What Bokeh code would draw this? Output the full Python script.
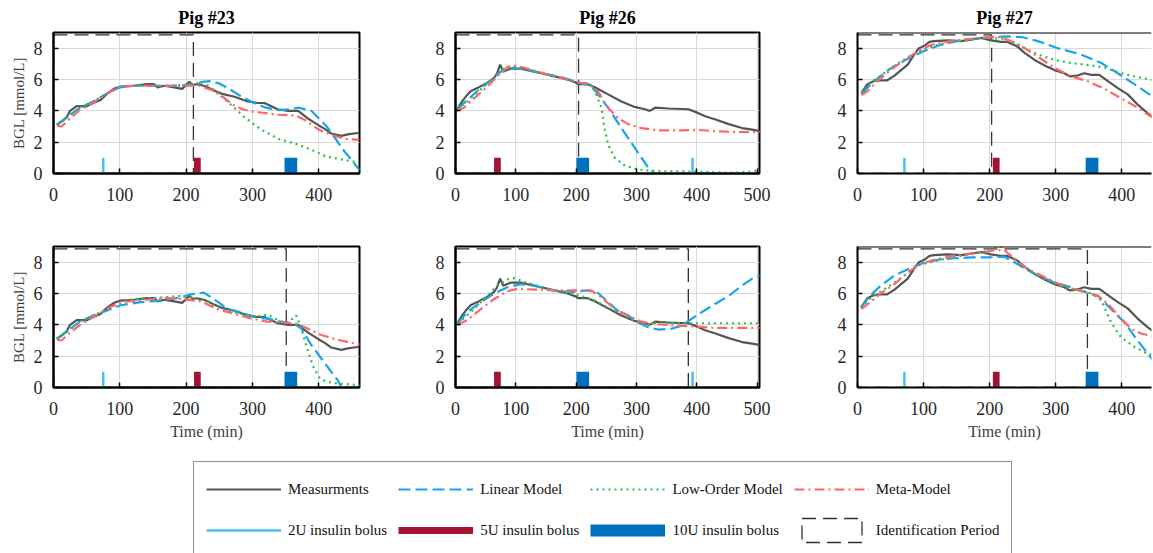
from bokeh.plotting import figure
from bokeh.layouts import column, row
from bokeh.models import Legend, LegendItem, Span, FixedTicker, Range1d
from bokeh.embed import file_html
from bokeh.resources import INLINE

# ---------------- data ----------------
pigs = ["Pig #23", "Pig #26", "Pig #27"]
x_ticks_450 = [0, 100, 200, 300, 400]
x_ticks_500 = [0, 100, 200, 300, 400, 500]
y_ticks = [0, 2, 4, 6, 8]

# Pig 23 measurements
p23_meas_t = [5, 15, 20, 25, 35, 50, 60, 71, 81, 91, 101, 121, 141, 152, 157, 167, 182, 194, 205, 210,
              215, 227, 232, 242, 253, 273, 293, 308, 318, 323, 338, 354, 369, 384, 399, 409, 419, 434, 444, 461]
p23_meas_y = [3.1, 3.4, 3.6, 4.0, 4.3, 4.3, 4.5, 4.7, 5.1, 5.4, 5.55, 5.6, 5.7, 5.7, 5.5, 5.6, 5.5, 5.4, 5.85, 5.65,
              5.7, 5.6, 5.5, 5.3, 5.1, 4.9, 4.6, 4.5, 4.5, 4.4, 4.1, 4.0, 4.0, 3.5, 3.1, 2.85, 2.55, 2.4, 2.5, 2.6]
# Pig 23, identification period 1 (top)
p23_lin_a_t = [5, 20, 40, 60, 80, 100, 120, 150, 180, 210, 225, 235, 250, 265, 280, 300, 320, 340, 355, 370, 389, 412, 419, 439, 462]
p23_lin_a_y = [3.1, 3.6, 4.2, 4.6, 5.1, 5.5, 5.6, 5.6, 5.6, 5.65, 5.85, 5.9, 5.75, 5.4, 5.0, 4.55, 4.2, 4.05, 4.1, 4.2, 4.0, 3.0, 2.6, 1.4, 0.2]
p23_low_a_t = [5, 20, 40, 60, 80, 100, 120, 150, 180, 210, 225, 240, 262, 288, 313, 340, 365, 390, 410, 440, 461]
p23_low_a_y = [3.1, 3.55, 4.2, 4.6, 5.1, 5.5, 5.6, 5.6, 5.6, 5.7, 5.85, 5.4, 4.6, 3.6, 2.8, 2.2, 1.9, 1.5, 1.1, 0.85, 0.7]
p23_meta_a_t = [5, 12, 25, 38, 55, 70, 85, 100, 120, 160, 200, 220, 240, 255, 270, 285, 300, 320, 340, 365, 380, 400, 420, 440, 461]
p23_meta_a_y = [3.05, 3.0, 3.5, 4.0, 4.4, 4.8, 5.2, 5.5, 5.6, 5.6, 5.6, 5.6, 5.3, 4.9, 4.4, 4.1, 3.95, 3.85, 3.75, 3.7, 3.4, 2.8, 2.45, 2.2, 2.15]
# Pig 23, identification period 2 (bottom)
p23_lin_b_t = [5, 20, 40, 60, 80, 101, 131, 162, 192, 207, 227, 242, 263, 283, 303, 323, 343, 364, 374, 389, 404, 419, 429, 434, 440]
p23_lin_b_y = [3.1, 3.6, 4.2, 4.6, 4.9, 5.25, 5.45, 5.55, 5.75, 5.95, 6.05, 5.65, 5.0, 4.8, 4.5, 4.4, 4.2, 4.05, 3.75, 2.7, 1.85, 1.0, 0.45, 0.0, -0.3]
p23_low_b_t = [5, 20, 40, 60, 80, 100, 121, 150, 192, 210, 232, 242, 263, 283, 303, 323, 343, 354, 366, 374, 381, 391, 402, 414, 429, 462]
p23_low_b_y = [3.1, 3.55, 4.2, 4.6, 5.0, 5.4, 5.65, 5.7, 5.85, 5.75, 5.55, 5.2, 4.9, 4.7, 4.5, 4.65, 4.2, 4.15, 4.6, 3.75, 2.7, 1.4, 0.55, 0.35, 0.25, 0.15]
p23_meta_b_t = [5, 12, 25, 40, 60, 80, 101, 140, 172, 192, 222, 247, 273, 298, 323, 348, 369, 384, 404, 424, 444, 462]
p23_meta_b_y = [3.05, 3.0, 3.5, 4.0, 4.5, 5.0, 5.45, 5.6, 5.7, 5.65, 5.5, 5.0, 4.7, 4.4, 4.2, 4.15, 4.05, 3.75, 3.35, 3.1, 2.9, 2.75]

# Pig 26 measurements
p26_meas_t = [3, 11, 19, 25, 36, 53, 64, 69, 74, 79, 92, 108, 119, 142, 164, 186, 200, 203, 219, 231, 253, 275,
              297, 314, 322, 331, 353, 386, 400, 414, 431, 453, 475, 492, 506]
p26_meas_y = [4.1, 4.6, 5.0, 5.25, 5.45, 5.8, 6.1, 6.4, 6.95, 6.5, 6.7, 6.7, 6.6, 6.4, 6.2, 6.0, 5.8, 5.7, 5.7, 5.5, 5.05, 4.6,
              4.25, 4.1, 4.0, 4.2, 4.15, 4.1, 3.9, 3.65, 3.45, 3.15, 2.9, 2.8, 2.7]
p26_lin_a_t = [3, 20, 40, 60, 75, 95, 120, 150, 180, 205, 225, 253, 275, 297, 319, 325, 335, 505]
p26_lin_a_y = [4.1, 4.7, 5.4, 6.0, 6.5, 6.75, 6.6, 6.35, 6.1, 5.8, 5.6, 4.2, 2.9, 1.65, 0.4, 0.2, -0.3, -0.3]
p26_low_a_t = [3, 20, 40, 60, 80, 95, 120, 150, 180, 205, 225, 231, 242, 247, 253, 264, 281, 303, 336, 400, 458, 486, 506]
p26_low_a_y = [4.1, 4.6, 5.3, 6.0, 6.7, 6.85, 6.65, 6.35, 6.05, 5.8, 5.65, 5.25, 4.2, 2.9, 1.85, 1.0, 0.5, 0.25, 0.15, 0.12, 0.05, 0.1, 0.2]
p26_meta_a_t = [3, 14, 31, 53, 69, 86, 97, 114, 150, 180, 200, 220, 236, 253, 269, 286, 308, 336, 375, 403, 431, 464, 506]
p26_meta_a_y = [4.0, 4.2, 4.8, 5.55, 6.2, 6.8, 6.9, 6.75, 6.35, 6.05, 5.8, 5.75, 5.25, 4.2, 3.55, 3.15, 2.9, 2.75, 2.75, 2.78, 2.7, 2.65, 2.65]
p26_lin_b_t = [4, 19, 42, 64, 86, 108, 131, 153, 175, 197, 219, 236, 253, 269, 286, 303, 319, 336, 358, 375, 392, 408, 431, 453, 475, 492, 506]
p26_lin_b_y = [4.1, 4.8, 5.45, 6.0, 6.4, 6.6, 6.5, 6.25, 6.15, 6.1, 6.2, 6.05, 5.45, 4.9, 4.6, 4.15, 3.85, 3.7, 3.75, 3.95, 4.4, 4.8, 5.35, 5.85, 6.5, 6.95, 7.15]
p26_low_b_t = [4, 25, 53, 69, 86, 97, 114, 153, 186, 208, 231, 253, 275, 297, 319, 336, 375, 431, 506]
p26_low_b_y = [4.1, 4.8, 5.85, 6.5, 6.9, 6.98, 6.75, 6.3, 6.05, 5.85, 5.55, 5.1, 4.7, 4.25, 4.0, 4.15, 4.1, 4.1, 4.1]
p26_meta_b_t = [4, 19, 42, 64, 86, 103, 131, 164, 197, 225, 242, 264, 286, 308, 331, 364, 397, 431, 506]
p26_meta_b_y = [4.0, 4.3, 5.0, 5.65, 6.15, 6.3, 6.25, 6.2, 6.2, 6.2, 5.75, 5.0, 4.6, 4.2, 4.05, 3.95, 3.9, 3.8, 3.8]

# Pig 27 measurements
p27_meas_t = [6, 15, 25, 35, 45, 56, 66, 76, 86, 93, 101, 109, 116, 136, 157, 172, 187, 202, 217, 227, 242, 253,
              268, 283, 298, 313, 321, 333, 343, 354, 366, 379, 394, 409, 424, 439, 449]
p27_meas_y = [5.15, 5.7, 5.9, 5.95, 5.95, 6.25, 6.6, 6.95, 7.6, 8.0, 8.15, 8.4, 8.45, 8.5, 8.45, 8.55, 8.65, 8.5, 8.4, 8.4, 8.1, 7.7,
              7.25, 6.9, 6.6, 6.4, 6.2, 6.25, 6.4, 6.3, 6.3, 5.9, 5.45, 5.05, 4.4, 3.85, 3.55]
p27_lin_a_t = [6, 25, 50, 75, 100, 125, 150, 175, 200, 225, 250, 273, 303, 338, 369, 394, 419, 449]
p27_lin_a_y = [5.1, 5.9, 6.7, 7.3, 7.8, 8.2, 8.45, 8.6, 8.7, 8.75, 8.7, 8.45, 8.0, 7.6, 7.05, 6.4, 5.7, 4.85]
p27_low_a_t = [6, 20, 40, 60, 80, 100, 130, 160, 190, 220, 235, 253, 273, 298, 323, 354, 374, 399, 424, 449]
p27_low_a_y = [5.1, 5.8, 6.4, 7.0, 7.5, 7.95, 8.3, 8.5, 8.65, 8.6, 8.4, 8.0, 7.6, 7.25, 7.05, 6.9, 6.75, 6.4, 6.15, 5.95]
p27_meta_a_t = [6, 15, 30, 50, 71, 91, 111, 141, 172, 197, 217, 232, 253, 273, 298, 323, 348, 374, 399, 424, 449]
p27_meta_a_y = [5.0, 5.25, 5.9, 6.6, 7.25, 7.8, 8.2, 8.45, 8.6, 8.7, 8.7, 8.45, 8.0, 7.45, 6.75, 6.2, 5.9, 5.4, 4.8, 4.2, 3.5]
p27_lin_b_t = [5, 20, 35, 56, 76, 96, 121, 146, 172, 197, 222, 237, 253, 273, 298, 323, 348, 364, 384, 404, 424, 449]
p27_lin_b_y = [5.1, 5.9, 6.5, 7.15, 7.55, 7.9, 8.15, 8.25, 8.3, 8.3, 8.35, 8.0, 7.6, 7.15, 6.7, 6.4, 6.05, 5.85, 5.0, 4.15, 3.0, 1.65]
p27_low_b_t = [5, 20, 45, 71, 91, 111, 136, 162, 187, 202, 217, 227, 242, 263, 288, 313, 338, 354, 369, 384, 399, 419, 439, 449]
p27_low_b_y = [5.1, 5.7, 6.4, 7.15, 7.8, 8.0, 8.25, 8.45, 8.6, 8.85, 9.0, 8.65, 8.0, 7.35, 6.85, 6.4, 6.2, 6.0, 5.55, 4.15, 3.2, 2.6, 2.15, 2.05]
p27_meta_b_t = [6, 15, 35, 56, 76, 96, 121, 152, 182, 207, 222, 237, 258, 283, 313, 343, 364, 379, 399, 414, 429, 449]
p27_meta_b_y = [5.0, 5.3, 6.0, 6.6, 7.35, 7.9, 8.2, 8.45, 8.6, 8.75, 8.8, 8.2, 7.55, 7.05, 6.45, 6.1, 5.85, 5.35, 4.4, 3.75, 3.45, 3.25]

# insulin boluses (time in min): 2U, 5U, 10U
bolus_2u = [75, 393, 71]
bolus_5u = [217, 69.5, 210]
bolus_10u = [358, 211, 355]
bolus_height = 1
# identification period end (min): top row, bottom row
id_end_top = [211, 204, 203]
id_end_bottom = [351, 386, 348]
id_level = 8.85

# ---------------- styles ----------------
FONT = "Liberation Serif"
C_MEAS = "#555555"
C_LIN = "#1AA3EC"
C_LOW = "#2DBE4B"
C_META = "#FF6666"
C_2U = "#4DBEEE"
C_5U = "#A2142F"
C_10U = "#0072BD"
C_ID = "#333333"

# layout: (fig width, left border, right border, x end)
col_specs = [(398, 53, 39, 461.5), (400, 57, 39, 504), (355, 59, 2, 445)]
x_tick_sets = [x_ticks_450, x_ticks_500, x_ticks_450]

meas = [(p23_meas_t, p23_meas_y), (p26_meas_t, p26_meas_y), (p27_meas_t, p27_meas_y)]
models_top = [
    [(p23_lin_a_t, p23_lin_a_y), (p23_low_a_t, p23_low_a_y), (p23_meta_a_t, p23_meta_a_y)],
    [(p26_lin_a_t, p26_lin_a_y), (p26_low_a_t, p26_low_a_y), (p26_meta_a_t, p26_meta_a_y)],
    [(p27_lin_a_t, p27_lin_a_y), (p27_low_a_t, p27_low_a_y), (p27_meta_a_t, p27_meta_a_y)],
]
models_bottom = [
    [(p23_lin_b_t, p23_lin_b_y), (p23_low_b_t, p23_low_b_y), (p23_meta_b_t, p23_meta_b_y)],
    [(p26_lin_b_t, p26_lin_b_y), (p26_low_b_t, p26_low_b_y), (p26_meta_b_t, p26_meta_b_y)],
    [(p27_lin_b_t, p27_lin_b_y), (p27_low_b_t, p27_low_b_y), (p27_meta_b_t, p27_meta_b_y)],
]

LIN_STYLE = dict(line_color=C_LIN, line_width=2.2, line_dash="12 5")
LOW_STYLE = dict(line_color=C_LOW, line_width=2.2, line_dash="2 4")
META_STYLE = dict(line_color=C_META, line_width=2.2, line_dash="10 4 2 4")
MEAS_STYLE = dict(line_color=C_MEAS, line_width=2.2)
ID_STYLE = dict(fill_color=None, line_color=C_ID, line_width=1.3, line_dash="14 7")


def make_panel(i, top):
    w, lb, rb, xend = col_specs[i]
    if top:
        h, tb, bb = 208, 31, 35
    else:
        h, tb, bb = 246, 38, 67
    p = figure(width=w, height=h, x_range=Range1d(0, xend), y_range=Range1d(0, 9),
               output_backend="svg", toolbar_location=None,
               title=pigs[i] if top else None,
               min_border_left=lb, min_border_right=rb, min_border_top=tb, min_border_bottom=bb,
               background_fill_color="white", border_fill_color="white")
    if top:
        p.title.align = "center"
        p.title.text_font = FONT
        p.title.text_font_size = "18px"
        p.title.text_font_style = "bold"
        p.title.text_color = "#000000"
        p.title.standoff = 10
    if i == 2:
        p.outline_line_color = None
        p.add_layout(Span(location=9, dimension="width", line_color="black", line_width=2))
    else:
        p.outline_line_color = "black"
        p.outline_line_width = 2
        p.outline_line_alpha = 1
    for ax in (p.xaxis[0], p.yaxis[0]):
        ax.axis_line_color = "black"
        ax.axis_line_width = 2
        ax.major_tick_in = 5
        ax.major_tick_out = 0
        ax.major_tick_line_color = "black"
        ax.major_tick_line_width = 1.5
        ax.minor_tick_line_color = None
        ax.major_label_text_font = FONT
        ax.major_label_text_font_size = "18px"
        ax.major_label_text_color = "#262626"
        ax.axis_label_text_font = FONT
        ax.axis_label_text_font_style = "normal"
        ax.axis_label_text_color = "#404040"
    p.xaxis.ticker = FixedTicker(ticks=x_tick_sets[i])
    p.yaxis.ticker = FixedTicker(ticks=y_ticks)
    p.xaxis.major_label_standoff = 14
    p.yaxis.major_label_standoff = 11
    if i == 0:
        p.yaxis.axis_label = "BGL [mmol/L]"
        p.yaxis.axis_label_text_font_size = "15px"
        p.yaxis.axis_label_standoff = 4
    if not top:
        p.xaxis.axis_label = "Time (min)"
        p.xaxis.axis_label_text_font_size = "16px"
        p.xaxis.axis_label_standoff = 5
    p.xgrid.grid_line_color = "#d9d9d9"
    p.ygrid.grid_line_color = "#d9d9d9"
    p.xgrid.grid_line_width = 1
    p.ygrid.grid_line_width = 1

    id_end = id_end_top[i] if top else id_end_bottom[i]
    p.quad(left=[0], right=[id_end], bottom=[0], top=[id_level], **ID_STYLE)
    p.segment(x0=[bolus_2u[i]], y0=[0], x1=[bolus_2u[i]], y1=[bolus_height], line_color=C_2U, line_width=2.5)
    p.segment(x0=[bolus_5u[i]], y0=[0], x1=[bolus_5u[i]], y1=[bolus_height], line_color=C_5U, line_width=6.7)
    p.segment(x0=[bolus_10u[i]], y0=[0], x1=[bolus_10u[i]], y1=[bolus_height], line_color=C_10U, line_width=12.7)

    t, y = meas[i]
    p.line(t, y, **MEAS_STYLE)
    mods = models_top[i] if top else models_bottom[i]
    for (mt, my), st in zip(mods, (LIN_STYLE, LOW_STYLE, META_STYLE)):
        p.line(mt, my, **st)
    return p


top_row = [make_panel(i, True) for i in range(3)]
bottom_row = [make_panel(i, False) for i in range(3)]

# ---------------- legend figure ----------------
lf = figure(width=1153, height=99, x_range=Range1d(0, 1), y_range=Range1d(0, 1),
            output_backend="svg", toolbar_location=None, x_axis_type=None, y_axis_type=None,
            min_border_left=0, min_border_right=0, min_border_top=0, min_border_bottom=0)
lf.outline_line_color = None
lf.xgrid.visible = False
lf.ygrid.visible = False
dx = [-5, -4]
dy = [-5, -4]
r_meas = lf.line(dx, dy, **MEAS_STYLE)
r_lin = lf.line(dx, dy, **LIN_STYLE)
r_low = lf.line(dx, dy, **LOW_STYLE)
r_meta = lf.line(dx, dy, **META_STYLE)
r_2u = lf.segment(x0=dx[:1], y0=dy[:1], x1=dx[1:], y1=dy[1:], line_color=C_2U, line_width=2.5)
r_5u = lf.segment(x0=dx[:1], y0=dy[:1], x1=dx[1:], y1=dy[1:], line_color=C_5U, line_width=7)
r_10u = lf.segment(x0=dx[:1], y0=dy[:1], x1=dx[1:], y1=dy[1:], line_color=C_10U, line_width=12)
r_id = lf.quad(left=dx[:1], right=dx[1:], bottom=dy[:1], top=dy[1:], **ID_STYLE)

legend_labels = ["Measurments", "Linear Model", "Low-Order Model", "Meta-Model",
                 "2U insulin bolus", "5U insulin bolus", "10U insulin bolus", "Identification Period"]
rs = [r_meas, r_lin, r_low, r_meta, r_2u, r_5u, r_10u, r_id]
legend = Legend(items=[LegendItem(label=l, renderers=[r]) for l, r in zip(legend_labels, rs)],
                orientation="horizontal", ncols=4, location=(193, -5),
                glyph_width=75, glyph_height=30, label_standoff=7, spacing=11, padding=12, margin=0,
                label_text_font=FONT, label_text_font_size="15px", label_text_color="#111111",
                border_line_color="#222222", border_line_width=1.5, background_fill_color="white",
                background_fill_alpha=1)
lf.add_layout(legend, "center")

layout = column(row(*top_row), row(*bottom_row), lf)
open("out.html", "w").write(file_html(layout, INLINE))
